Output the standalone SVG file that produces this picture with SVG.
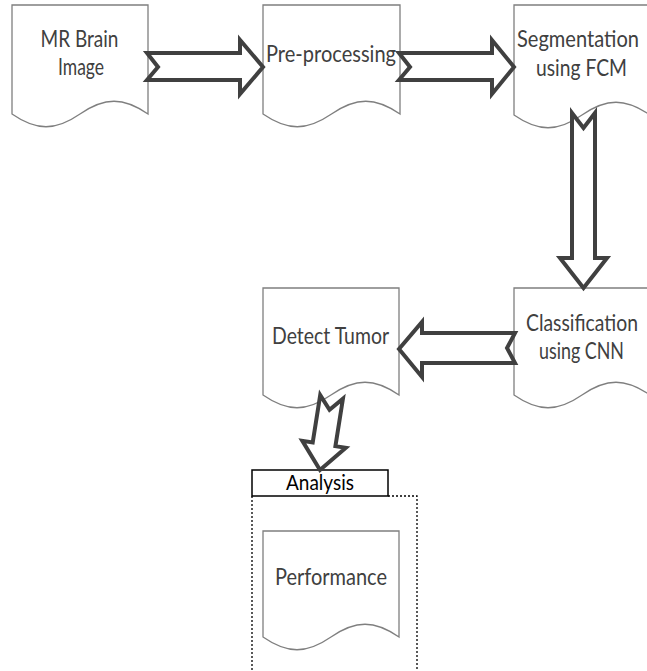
<svg xmlns="http://www.w3.org/2000/svg" width="647" height="671" viewBox="0 0 647 671">
  <style>
    .doc { fill: #ffffff; stroke: #7f7f7f; stroke-width: 1.3; }
    .lbl { font-family: Lato, "Liberation Sans", sans-serif; font-size: 23px; fill: #404040; text-anchor: middle; }
    .flow { fill: #ffffff; stroke: #404040; stroke-width: 4; stroke-linejoin: miter; stroke-miterlimit: 6; }
    .hdr { fill: #ffffff; stroke: #000000; stroke-width: 1.5; }
    .hdrtxt { font-family: Lato, "Liberation Sans", sans-serif; font-size: 21px; fill: #000000; text-anchor: middle; }
    .frame { fill: none; stroke: #000000; stroke-width: 1.3; stroke-dasharray: 2 2; }
  </style>

  <rect width="647" height="671" fill="#ffffff"/>

  <!-- Document-shaped process steps -->
  <g id="node-mr-brain">
    <path class="doc" d="M12,5 H148 V114 C123.5,97 104.5,97 80,114 C55.5,131 36.5,131 12,114 Z"/>
    <text class="lbl" x="79.5" y="47" textLength="78" lengthAdjust="spacingAndGlyphs">MR Brain</text>
    <text class="lbl" x="81" y="75" textLength="46" lengthAdjust="spacingAndGlyphs">Image</text>
  </g>

  <g id="node-preprocessing">
    <path class="doc" d="M263,5 H400 V114 C375.3,97 356.2,97 331.5,114 C306.8,131 287.7,131 263,114 Z"/>
    <text class="lbl" x="331" y="62" textLength="130" lengthAdjust="spacingAndGlyphs">Pre-processing</text>
  </g>

  <g id="node-segmentation">
    <path class="doc" d="M514,5 H650 V115 C625.5,98 606.5,98 582,115 C557.5,132 538.5,132 514,115 Z"/>
    <text class="lbl" x="578" y="47" textLength="122" lengthAdjust="spacingAndGlyphs">Segmentation</text>
    <text class="lbl" x="581.5" y="76" textLength="91" lengthAdjust="spacingAndGlyphs">using FCM</text>
  </g>

  <g id="node-classification">
    <path class="doc" d="M514,288 H650 V395 C625.5,378 606.5,378 582,395 C557.5,412 538.5,412 514,395 Z"/>
    <text class="lbl" x="582" y="331" textLength="112" lengthAdjust="spacingAndGlyphs">Classification</text>
    <text class="lbl" x="581.5" y="359" textLength="85" lengthAdjust="spacingAndGlyphs">using CNN</text>
  </g>

  <g id="node-detect-tumor">
    <path class="doc" d="M263,288 H399 V395 C374.5,378 355.5,378 331,395 C306.5,412 287.5,412 263,395 Z"/>
    <text class="lbl" x="330.5" y="344" textLength="117" lengthAdjust="spacingAndGlyphs">Detect Tumor</text>
  </g>

  <!-- Analysis container -->
  <g id="node-analysis">
    <path class="frame" d="M252,496 V671 M388,496 H417 V671"/>
    <rect class="hdr" x="252" y="470" width="136" height="26"/>
    <text class="hdrtxt" x="320" y="490" textLength="68" lengthAdjust="spacingAndGlyphs">Analysis</text>
  </g>

  <g id="node-performance">
    <path class="doc" d="M263,531 H399 V637 C374.5,620 355.5,620 331,637 C306.5,654 287.5,654 263,637 Z"/>
    <text class="lbl" x="331" y="585" textLength="112" lengthAdjust="spacingAndGlyphs">Performance</text>
  </g>

  <!-- Block arrows between steps -->
  <g id="connectors">
    <path class="flow" d="M147,53 H240 V40 L263,67 L240,94 V80 H147 L158,67 Z"/>
    <path class="flow" d="M399,53 H492 V40 L514,67 L492,94 V80 H399 L410,67 Z"/>
    <path class="flow" d="M572,113 L583.5,128 L595,113 V258 H607 L583.5,288 L560,258 H572 Z"/>
    <path class="flow" d="M515,333 H422 V322 L399,349 L422,377 V363 H515 L507,348 Z"/>
    <path class="flow" transform="translate(320,470) rotate(9)" d="M-11.5,-74 L0,-61 L11.5,-74 V-26 H22 L0,0 L-22,-26 H-11.5 Z"/>
  </g>
</svg>
